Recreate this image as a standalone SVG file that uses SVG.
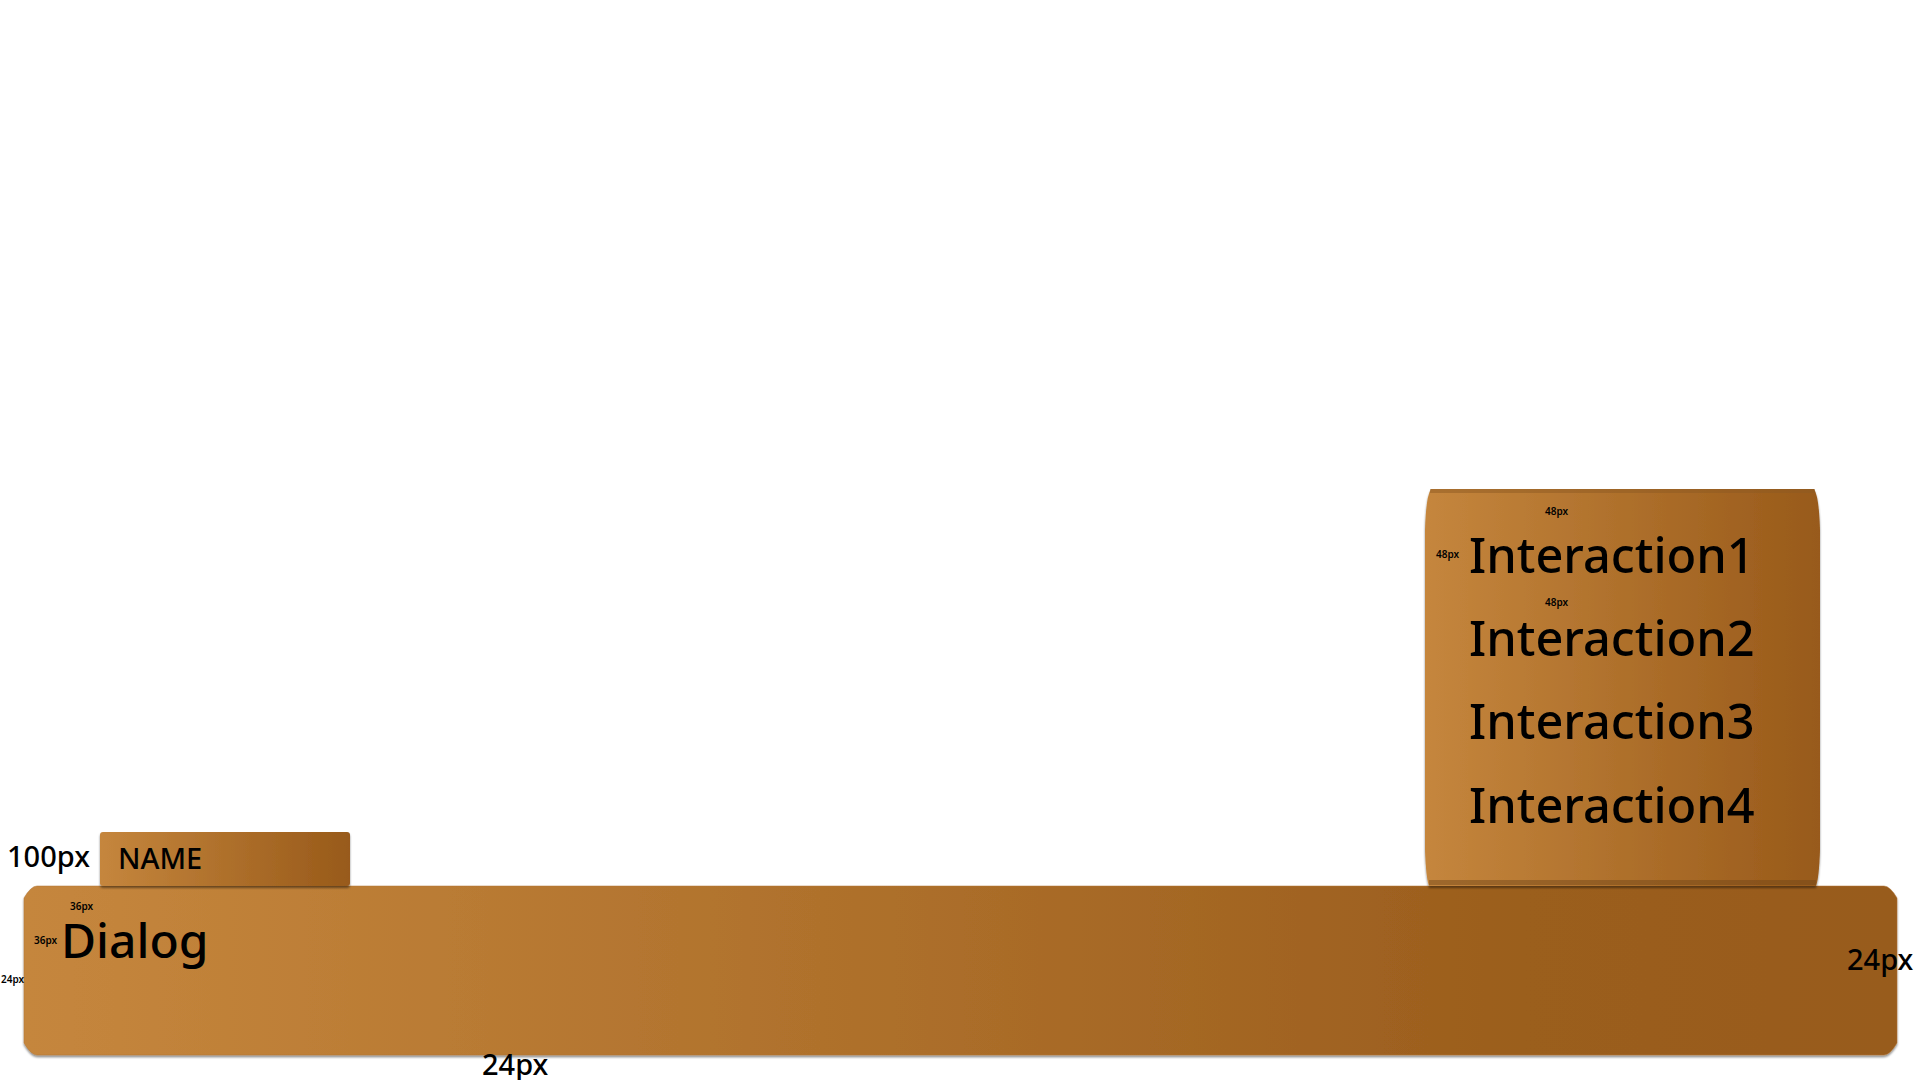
<svg xmlns="http://www.w3.org/2000/svg" width="1920" height="1080" viewBox="0 0 1920 1080">
<defs>
<linearGradient id="wood" x1="0" y1="0" x2="1" y2="0">
<stop offset="0" stop-color="#C5863D"/>
<stop offset="0.05" stop-color="#C3843B"/>
<stop offset="0.8" stop-color="#9B5E1D"/>
<stop offset="1" stop-color="#985B1B"/>
</linearGradient>
<linearGradient id="wood2" x1="0" y1="0" x2="1" y2="0">
<stop offset="0" stop-color="#C5863D"/>
<stop offset="1" stop-color="#985A1A"/>
</linearGradient>
<filter id="sh" x="-5%" y="-5%" width="110%" height="115%">
<feDropShadow dx="0" dy="2" stdDeviation="1.2" flood-color="#000" flood-opacity="0.45"/>
</filter>
</defs>
<style>
text{font-family:"Noto Sans","Open Sans","DejaVu Sans",sans-serif;fill:#000;font-weight:500}
.big{font-size:29px}
.huge{font-size:48px}
.inter{font-size:48.7px}
.small{font-size:10px;font-weight:600}
.box{filter:url(#sh)}
</style>
<rect width="1920" height="1080" fill="#fff"/>
<g id="dialog">
<path class="box" d="M37,886 L1884,886 Q1890,886 1897,898 L1897,1043 Q1890,1055 1884,1055 L37,1055 Q31,1055 24,1043 L24,898 Q31,886 37,886 Z" fill="url(#wood)" stroke="#B07535" stroke-width="0.5" stroke-linejoin="round"/>
<text class="huge" x="61" y="958">Dialog</text>
<text class="small" x="70" y="910">36px</text>
<text class="small" x="34" y="944">36px</text>
<text class="small" x="1" y="983">24px</text>
</g>
<g id="name">
<rect class="box" x="100" y="832" width="250" height="54" rx="3" fill="url(#wood2)"/>
<text class="big" x="118" y="869">NAME</text>
</g>
<g id="interactions">
<path class="box" d="M1431,489 L1814,489 Q1819,496 1820,530 L1820,850 Q1819,878 1816,886 L1429,886 Q1426,878 1425,850 L1425,530 Q1426,496 1431,489 Z" fill="url(#wood2)"/>
<rect x="1430" y="489" width="385" height="4" fill="#8E5A22" opacity="0.5"/>
<rect x="1429" y="880" width="387" height="5" fill="#6E4518" opacity="0.45"/>
<text class="small" x="1545" y="515">48px</text>
<text class="small" x="1436" y="558">48px</text>
<text class="small" x="1545" y="606">48px</text>
<text class="inter" x="1469" y="573">Interaction1</text>
<text class="inter" x="1469" y="656">Interaction2</text>
<text class="inter" x="1469" y="739">Interaction3</text>
<text class="inter" x="1469" y="823">Interaction4</text>
</g>
<g id="labels">
<text class="big" x="7" y="867">100px</text>
<text class="big" x="1847" y="970">24px</text>
<text class="big" x="482" y="1075">24px</text>
</g>
<g id="connectors"/>
</svg>
